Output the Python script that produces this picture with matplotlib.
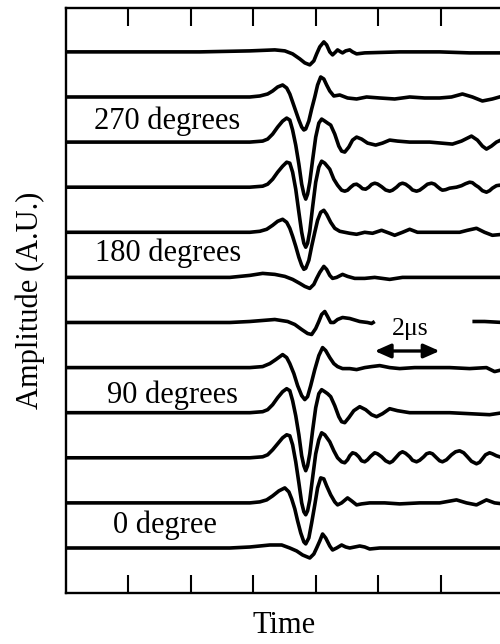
import numpy as np
import matplotlib
matplotlib.use("Agg")
import matplotlib.pyplot as plt

plt.rcParams["font.family"] = "serif"
plt.rcParams["font.serif"] = ["Liberation Serif", "DejaVu Serif"]

# Waveforms: time in microseconds, amplitude in A.U.
# One trace every 30 degrees, 0 degree at the bottom.
t_0 = [0, 5.25, 5.89, 6.53, 6.91, 7.17, 7.39, 7.58, 7.81, 7.94, 8.03, 8.13, 8.22, 8.32,
       8.45, 8.54, 8.67, 8.83, 8.96, 9.09, 9.25, 9.41, 9.57, 9.73, 10.05, 11.33, 12.61, 14.0]
a_0 = [0, 0, 1, 3, 3, 0, -3, -7, -10, -6, 0, 7, 14, 10, 2, -2, 0, 3, 1, 0, 1, 2, 1, -1,
       0, 0, 0, 0]

t_30 = [0, 5.89, 6.21, 6.43, 6.62, 6.82, 7.01, 7.14, 7.23, 7.33, 7.42, 7.52, 7.62, 7.68,
        7.78, 7.87, 7.97, 8.06, 8.16, 8.26, 8.35, 8.48, 8.61, 8.70, 8.83, 9.02, 9.15, 9.31,
        9.47, 9.73, 10.21, 10.69, 11.33, 11.97, 12.51, 12.83, 13.15, 13.47, 13.73, 14.0]
a_30 = [0, 0, 1, 3, 7, 12, 15, 11, 4, -6, -18, -30, -39, -41, -35, -20, -2, 15, 25, 24,
        17, 8, 1, -2, 0, 5, 2, -2, -1, 0, 0, -1, 0, 0, 3, 0, -2, 3, 0, -1]

t_60 = [0, 5.89, 6.30, 6.46, 6.62, 6.78, 6.94, 7.07, 7.17, 7.26, 7.36, 7.46, 7.55, 7.62,
        7.68, 7.74, 7.81, 7.90, 8.00, 8.10, 8.19, 8.29, 8.45, 8.58, 8.70,
        8.83, 8.93, 9.02, 9.09, 9.18, 9.28, 9.38, 9.47, 9.57, 9.66, 9.76, 9.89, 9.98,
        10.11, 10.24, 10.37, 10.46, 10.59, 10.69, 10.78, 10.88, 11.01, 11.10, 11.23,
        11.33, 11.46, 11.55, 11.65, 11.74, 11.87, 11.97, 12.06, 12.19, 12.35, 12.48,
        12.61, 12.74, 12.86, 12.99, 13.15, 13.25, 13.34, 13.44, 13.57, 13.66, 13.79,
        13.89, 14.0]
a_60 = [0, 0, 1, 3, 8, 14, 20, 23, 22, 13, -4, -25, -45, -54, -57, -53, -42, -20, 4, 18,
        25, 23, 16, 7, 0,
        -4, -5, -2, 2, 5, 4, 1, -3, -4, -2, 1.5, 5, 4,
        1, -3, -5, -3.5, 1, 4.5, 6, 4.5, 1, -2.5, -4,
        -2.5, 1, 4, 5, 4, 0, -3, -4, -2, 3, 6,
        7, 5, 1, -3.5, -6, -4.5, -1, 3, 5, 4, 2,
        1, 0]

t_90 = [0, 5.89, 6.30, 6.46, 6.62, 6.78, 6.94, 7.07, 7.17, 7.26, 7.36, 7.46, 7.55, 7.62,
        7.68, 7.74, 7.81, 7.90, 8.00, 8.10, 8.19, 8.29, 8.38, 8.48, 8.61, 8.74, 8.83, 8.93,
        9.06, 9.22, 9.41, 9.60, 9.79, 9.95, 10.14, 10.37, 10.62, 11.01, 11.65, 12.29,
        12.93, 13.57, 14.0]
a_90 = [0, 0, 1, 3, 8, 15, 21, 24, 22, 12, -3, -22, -43, -53, -58, -53, -41, -18, 5, 19,
        23, 21, 19, 16, 7, -4, -9, -10, -5, 2, 6, 3, -2, -4, -1, 4, 2, 0, 0, 0, -1, -2, 0]

t_120 = [0, 5.89, 6.30, 6.53, 6.72, 6.94, 7.07, 7.17, 7.30, 7.42, 7.55, 7.65, 7.74, 7.84,
         7.97, 8.10, 8.22, 8.32, 8.45, 8.58, 8.70, 8.86, 9.09, 9.31, 9.57, 9.79, 10.05,
         10.37, 10.69, 11.17, 11.65, 12.29, 12.93, 13.47, 13.73, 14.0]
a_120 = [0, 0, 1, 4, 8, 13, 10, 4, -6, -18, -28, -32, -29, -18, -2, 12, 20, 17, 10, 4, 1,
         -1, -1, -2, 0, 1, 2, 0, -1, 0, 0, 0, -1, 0, -4, -2]

# this one is broken where the "2us" scale mark sits
t_150 = [0, 5.25, 5.89, 6.69, 7.10, 7.33, 7.55, 7.74, 7.87, 8.00, 8.10, 8.19, 8.29, 8.38,
         8.48, 8.58, 8.70, 8.86, 9.09, 9.41, 9.66, 9.79, 9.89, 11.5, 13.02, 13.41, 14.0]
a_150 = [0, 0, 1, 3, 1, -2, -7, -11, -12, -6, 1, 8, 11, 6, 0, 0, 3, 5, 4, 1, 0, -1, 1,
         np.nan, 1, 1, 0]

t_180 = [0, 5.25, 5.89, 6.30, 6.69, 7.01, 7.26, 7.49, 7.65, 7.81, 7.94, 8.03, 8.13, 8.26,
         8.35, 8.45, 8.54, 8.67, 8.86, 9.02, 9.25, 9.57, 9.89, 10.37, 10.78, 11.33, 12.29,
         13.25, 14.0]
a_180 = [0, 0, 2, 4, 3, 1, -2, -6, -9, -11, -7, -1, 5, 11, 8, 2, -1, 0, 3, 1, -1, -1, 0,
         -2, 0, 0, 0, 0, 0]

t_210 = [0, 5.89, 6.21, 6.43, 6.62, 6.78, 6.94, 7.07, 7.17, 7.26, 7.36, 7.46, 7.55, 7.62,
         7.68, 7.78, 7.87, 7.97, 8.06, 8.16, 8.26, 8.35, 8.48, 8.61, 8.77, 8.93, 9.09, 9.31,
         9.57, 9.82, 10.11, 10.37, 10.53, 10.78, 11.01, 11.26, 11.65, 12.13, 12.61, 12.86,
         13.15, 13.41, 13.66, 14.0]
a_210 = [0, 0, 1, 3, 7, 11, 13, 10, 4, -4, -14, -25, -33, -37, -36, -28, -14, 0, 12, 20,
         22, 18, 10, 4, 1, 0, -1, -2, 0, -1, 2, -1, -3, 0, 3, 0, 0, 0, 0, 2, 4, 0, -3, -2]

t_240 = [0, 5.89, 6.30, 6.46, 6.62, 6.78, 6.94, 7.07, 7.17, 7.26, 7.36, 7.46, 7.55, 7.62,
         7.68, 7.74, 7.81, 7.90, 8.00, 8.10, 8.19, 8.29, 8.45, 8.58, 8.70, 8.83,
         8.93, 9.02, 9.12, 9.22, 9.31, 9.41, 9.50, 9.60, 9.70, 9.79, 9.89, 9.98, 10.11,
         10.24, 10.37, 10.46, 10.59, 10.69, 10.78, 10.88, 11.01, 11.10, 11.23, 11.33,
         11.46, 11.58, 11.71, 11.81, 11.90, 12.00, 12.06, 12.16, 12.29, 12.51, 12.67,
         12.80, 12.93, 13.02, 13.12, 13.22, 13.34, 13.47, 13.57, 13.66, 13.79, 13.89, 14.0]
a_240 = [0, 0, 1, 3, 8, 15, 21, 25, 24, 15, -2, -25, -45, -56, -60, -56, -44, -20, 5, 20,
         26, 24, 18, 8, 2, -3,
         -4, -3, 0, 2.5, 3, 1, -1.5, -2, 0, 2.8, 4, 3.2, 0.5,
         -2.8, -4, -3, 0, 3, 4, 3, 0, -2.8, -4, -3,
         0, 3, 4, 3, 0.5, -2, -3, -2.5, -1, 0, 1.5,
         3.5, 5, 4.5, 2, 0, -3.5, -5, -3.5, -1, 1.5, 2, 1]

t_270 = [0, 5.89, 6.30, 6.46, 6.62, 6.78, 6.94, 7.07, 7.17, 7.26, 7.36, 7.46, 7.55, 7.62,
         7.68, 7.74, 7.81, 7.90, 8.00, 8.10, 8.19, 8.29, 8.38, 8.48, 8.61, 8.74, 8.83, 8.93,
         9.06, 9.18, 9.31, 9.47, 9.66, 9.92, 10.14, 10.37, 10.62, 11.01, 11.65, 12.38,
         12.67, 12.99, 13.18, 13.34, 13.47, 13.63, 13.79, 14.0]
a_270 = [0, 0, 1, 3, 8, 15, 21, 24, 22, 12, -3, -22, -42, -52, -57, -52, -40, -18, 5, 19,
         23, 21, 19, 17, 8, -4, -9, -10, -5, 2, 5, 3, -1, -3, -1, 2, 1, 0, 0, -2, 1, 6, 2,
         -4, -7, -4, 0, 3]

t_300 = [0, 5.89, 6.21, 6.46, 6.62, 6.78, 6.94, 7.07, 7.17, 7.26, 7.36, 7.46, 7.55, 7.62,
         7.68, 7.78, 7.87, 7.97, 8.06, 8.16, 8.26, 8.35, 8.45, 8.58, 8.77, 9.02, 9.31, 9.63,
         10.05, 10.53, 11.01, 11.49, 11.97, 12.35, 12.70, 13.02, 13.34, 13.66, 14.0]
a_300 = [0, 0, 1, 3, 6, 10, 12, 9, 3, -5, -14, -23, -30, -33, -32, -24, -12, 0, 12, 20,
         18, 12, 6, 1, 2, -1, -2, 0, -1, -2, 0, -1, -1, 0, 3, 0, -4, -2, 1]

t_330 = [0, 4.29, 5.89, 6.69, 7.01, 7.26, 7.49, 7.65, 7.81, 7.94, 8.03, 8.13, 8.26, 8.35,
         8.45, 8.54, 8.64, 8.70, 8.80, 8.86, 8.96, 9.09, 9.18, 9.31, 9.57, 10.69, 11.97,
         12.93, 14.0]
a_330 = [0, 0, 1, 2, 1, -2, -7, -11, -13, -9, -2, 5, 10, 7, 0, -3, 0, 2, 0, -1, 1, 2, 0,
         -2, -1, 0, 0, -1, -1]

times = [t_0, t_30, t_60, t_90, t_120, t_150, t_180, t_210, t_240, t_270, t_300, t_330]
amps = [a_0, a_30, a_60, a_90, a_120, a_150, a_180, a_210, a_240, a_270, a_300, a_330]
spacing = 45.1

label_text = ["0 degree", "90 degrees", "180 degrees", "270 degrees"]
label_t = [3.17, 3.41, 3.28, 3.24]
label_y = [15, 145, 287, 419]

fig = plt.figure(figsize=(5, 6.44), dpi=100)
ax = fig.add_axes([0.132, 0.0792, 0.874, 0.9084])

for k, (t, a) in enumerate(zip(times, amps)):
    ax.plot(t, np.array(a, dtype=float) + k * spacing, color="k", lw=2.6,
            solid_joinstyle="round", solid_capstyle="butt")

for txt, x, y in zip(label_text, label_t, label_y):
    ax.text(x, y, txt, fontsize=22, ha="center", va="baseline")

# 2 us scale mark
ax.text(11.04, 213, "2\u03bcs", fontsize=18.5, ha="center", va="baseline")
ax.annotate("", xy=(9.89, 197), xytext=(11.97, 197),
            arrowprops=dict(arrowstyle="<|-|>,head_length=0.95,head_width=0.42",
                            color="k", lw=2.4, shrinkA=0, shrinkB=0))

ax.set_xlim(0, 14)
ax.set_ylim(-45, 540)
ax.set_xticks([2, 4, 6, 8, 10, 12])
ax.set_yticks([])
ax.tick_params(axis="x", direction="in", top=True, length=13, width=1.5,
               labelbottom=False)
for s in ax.spines.values():
    s.set_linewidth(1.7)

ax.set_xlabel("Time", fontsize=22, labelpad=13)
ax.set_ylabel("Amplitude (A.U.)", fontsize=22, labelpad=15)

fig.savefig("out.png", dpi=100)
